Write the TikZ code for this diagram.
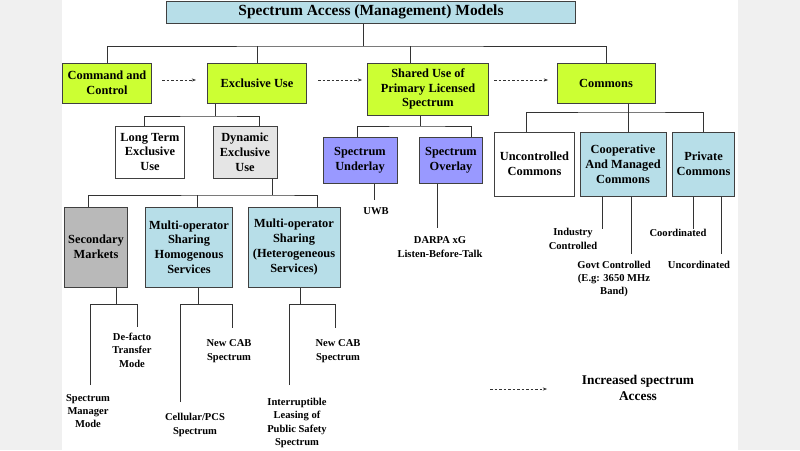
\documentclass[tikz,border=0pt]{standalone}
\usepackage{fontspec}
\setmainfont{Liberation Serif}
\usetikzlibrary{arrows.meta}
\definecolor{lime}{HTML}{CCFF33}
\definecolor{pale}{HTML}{B7DEE8}
\definecolor{lilac}{HTML}{9999FF}
\begin{document}
\begin{tikzpicture}[x=0.025cm, y=-0.025cm,
  box/.style={draw=black!75, line width=0.7pt, align=center, inner sep=1pt, font=\fontsize{8.8}{10.5}\selectfont\bfseries},
  leaf/.style={align=center, inner sep=1pt, font=\fontsize{7.5}{9.5}\selectfont\bfseries},
  link/.style={draw=black!80, line width=0.6pt},
  more/.style={draw=black!80, dash pattern=on 2pt off 1.2pt, -{Stealth[length=3pt]}}]
\useasboundingbox (0,0) rectangle (800,450);
\fill[gray!12] (0,0) rectangle (62,450);
\fill[gray!12] (738,0) rectangle (800,450);

\node[box, fill=pale, minimum width=10.2cm, minimum height=0.55cm, font=\fontsize{11}{12}\selectfont\bfseries] (top) at (371,12) {Spectrum Access (Management) Models};
\node[box, fill=lime, minimum width=2.2cm, minimum height=1cm] (cc) at (107,83) {Command and\\Control};
\node[box, fill=lime, minimum width=2.45cm, minimum height=1cm] (eu) at (257,83) {Exclusive Use};
\node[box, fill=lime, minimum width=3cm, minimum height=1.3cm] (su) at (428,89) {Shared Use of\\Primary Licensed\\Spectrum};
\node[box, fill=lime, minimum width=2.45cm, minimum height=1cm] (cm) at (606,83) {Commons};

\draw[more] (162,80) -- (196,80);
\draw[more] (318,80) -- (362,80);
\draw[more] (494,80) -- (548,80);

% first level
\coordinate (bus0) at (363,46);
\draw[link] (top.south -| bus0) -- (bus0);
\draw[link] (cc.north) |- (bus0) -| (cm.north);
\draw[link] (eu.north) -- (eu.north |- bus0);
\draw[link] (su.north -| 410,0) -- (410,46);

% exclusive use
\node[box, minimum width=1.72cm, minimum height=1.3cm] (lt) at (150,152) {Long Term\\Exclusive\\Use};
\node[box, fill=gray!20, minimum width=1.6cm, minimum height=1.3cm] (de) at (245,152) {Dynamic\\Exclusive\\Use};
\coordinate (bus1) at (215,116);
\draw[link] (eu.south -| bus1) -- (bus1);
\draw[link] (lt.north -| 144,0) |- (bus1) -| (de.north -| 259,0);

\node[box, fill=gray!55, minimum width=1.58cm, minimum height=2cm] (sm) at (96,247) {Secondary\\Markets};
\node[box, fill=pale, minimum width=2.15cm, minimum height=2cm] (ho) at (189,247) {Multi-operator\\Sharing\\Homogenous\\Services};
\node[box, fill=pale, minimum width=2.3cm, minimum height=2cm] (he) at (294,247) {Multi-operator\\Sharing\\(Heterogeneous\\Services)};
\coordinate (bus2) at (272,195);
\draw[link] (de.south -| bus2) -- (bus2);
\draw[link] (sm.north -| 88,0) |- (bus2) -| (he.north -| 317,0);
\draw[link] (ho.north -| 197,0) -- (197,195);

% secondary markets
\node[leaf] (smm) at (88,411) {Spectrum\\Manager\\Mode};
\node[leaf] (dtm) at (132,350) {De-facto\\Transfer\\Mode};
\coordinate (sm1) at (90,385);
\coordinate (sm2) at (137,327);
\draw[link] (sm.south -| 116,0) -- (116,304);
\draw[link] (sm1) |- (116,304) -| (sm2);

\node[leaf] (cps) at (195,425) {Cellular/PCS\\Spectrum};
\node[leaf] (nc1) at (229,351) {New CAB\\Spectrum};
\coordinate (ho1) at (180,402);
\coordinate (ho2) at (232,328);
\draw[link] (ho.south -| 198,0) -- (198,304);
\draw[link] (ho1) |- (198,304) -| (ho2);

\node[leaf] (ipl) at (297,423) {Interruptible\\Leasing of\\Public Safety\\Spectrum};
\node[leaf] (nc2) at (338,351) {New CAB\\Spectrum};
\coordinate (he1) at (289,385);
\coordinate (he2) at (335,328);
\draw[link] (he.south -| 300,0) -- (300,304);
\draw[link] (he1) |- (300,304) -| (he2);

% shared use
\node[box, fill=lilac, minimum width=1.85cm, minimum height=1.15cm] (ul) at (360,160) {Spectrum\\Underlay};
\node[box, fill=lilac, minimum width=1.58cm, minimum height=1.15cm] (ol) at (451,160) {Spectrum\\Overlay};
\coordinate (bus3) at (420,126);
\draw[link] (su.south -| bus3) -- (bus3);
\draw[link] (ul.north -| 357,0) |- (bus3) -| (ol.north -| 471,0);
\node[leaf] (uwb) at (376,211) {UWB};
\node[leaf] (dxg) at (440,247) {DARPA xG\\Listen-Before-Talk};
\draw[link] (ul.south -| 374,0) -- (374,200);
\draw[link] (ol.south -| 437,0) -- (437,228);

% commons
\node[box, minimum width=2.02cm, minimum height=1.6cm] (uc) at (534.5,164) {Uncontrolled\\Commons};
\node[box, fill=pale, minimum width=2.15cm, minimum height=1.6cm] (co) at (623,164) {Cooperative\\And Managed\\Commons};
\node[box, fill=pale, minimum width=1.55cm, minimum height=1.6cm] (pc) at (703.5,164) {Private\\Commons};
\coordinate (bus4) at (628,112);
\draw[link] (cm.south -| bus4) -- (bus4);
\draw[link] (uc.north -| 526,0) |- (bus4) -| (pc.north -| 703,0);
\draw[link] (co.north -| bus4) -- (bus4);

\node[leaf] (ind) at (573,239) {Industry\\Controlled};
\node[leaf] (gov) at (614,279) {Govt Controlled\\(E.g: 3650 MHz\\Band)};
\node[leaf] (crd) at (678,233) {Coordinated};
\node[leaf] (ucd) at (699,265) {Uncordinated};
\draw[link] (co.south -| 602,0) -- (602,229);
\draw[link] (co.south -| 631,0) -- (631,254);
\draw[link] (pc.south -| 693,0) -- (693,229);
\draw[link] (pc.south -| 721,0) -- (721,254);

% legend
\coordinate (lg1) at (490,389);
\coordinate (lg2) at (547,389);
\draw[more] (lg1) -- (lg2);
\node[leaf, font=\fontsize{9.5}{11.5}\selectfont\bfseries] (lgt) at (638,388) {Increased spectrum\\Access};
\end{tikzpicture}
\end{document}
